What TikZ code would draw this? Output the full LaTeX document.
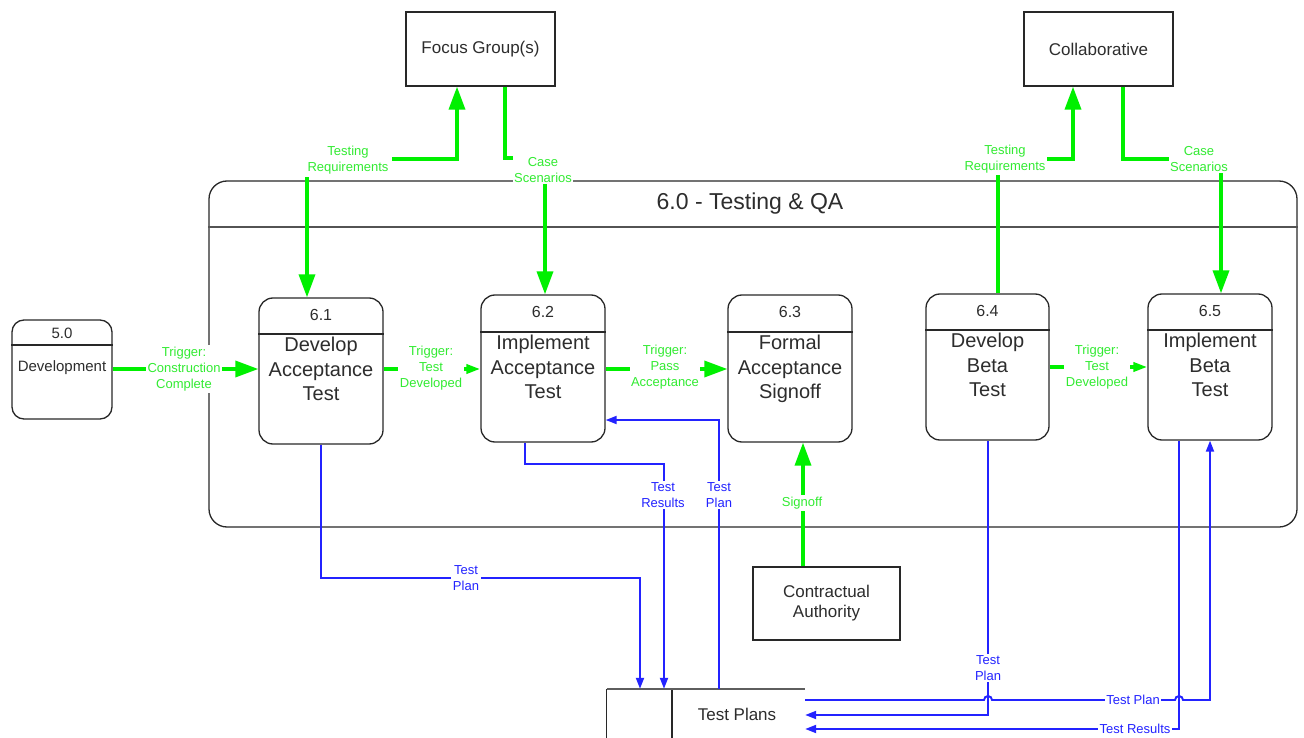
\documentclass[tikz,border=0pt]{standalone}
\usepackage{fontspec}
\setmainfont{Liberation Sans}
\usetikzlibrary{arrows.meta,calc}
\definecolor{flowgreen}{RGB}{0,240,0}
\definecolor{labgreen}{RGB}{50,235,50}
\definecolor{flowblue}{RGB}{35,35,255}
\definecolor{edge}{RGB}{40,40,40}
\definecolor{ink}{RGB}{45,45,45}

% process box: name, cx, cy, width, height, header y, id, body
\newcommand\procnode[8]{%
  \node[procbox, minimum width=#4pt, minimum height=#5pt] (#1) at (#2,#3) {};
  \coordinate (#1-hdr) at (#2,#6);
  \draw[boxline] (#1.west |- #1-hdr) -- (#1.east |- #1-hdr);
  \node[idtext] (#1-id) at (#2,{(#3-#5/2+#6)/2-1.5}) {#7};
  \node[bodytext] (#1-body) at (#2,#6+3) {#8};
}

\begin{document}
\begin{tikzpicture}[x=1pt,y=-1pt,
  boxline/.style={draw=edge, line width=1.3pt},
  procbox/.style={boxline, rounded corners=14pt, inner sep=0pt},
  extbox/.style={boxline, inner sep=0pt, text=ink, font=\fontsize{17}{20}\selectfont, align=center},
  idtext/.style={font=\fontsize{16}{18}\selectfont, text=ink},
  bodytext/.style={font=\fontsize{20}{24.5}\selectfont, text=ink, align=center, anchor=north, inner sep=0pt},
  gflow/.style={draw=flowgreen, line width=3.5pt},
  bigtip/.style={-{Triangle[length=23pt,width=16pt]}},
  bigboth/.style={{Triangle[length=23pt,width=16pt]}-{Triangle[length=23pt,width=16pt]}},
  smalltip/.style={-{Triangle[length=14pt,width=9pt]}},
  glabel/.style={font=\fontsize{13}{16}\selectfont, text=labgreen, fill=white, align=center, inner sep=1.5pt},
  bflow/.style={draw=flowblue, line width=1.9pt, -{Triangle[length=11pt,width=8pt]}},
  blabel/.style={font=\fontsize{13}{16}\selectfont, text=flowblue, fill=white, align=center, inner sep=1.5pt},
]
\fill[white] (0,0) rectangle (1304,738);
\useasboundingbox (0,0) rectangle (1304,738);

% ---- 6.0 container ----
\node[procbox, rounded corners=18pt, minimum width=1088pt, minimum height=346pt] (qa) at (753,354) {};
\coordinate (qa-hdr) at (753,227);
\draw[draw=edge!80, line width=2pt] (qa.west |- qa-hdr) -- (qa.east |- qa-hdr);
\node[font=\fontsize{23}{26}\selectfont, text=ink] (qa-title) at (750,204) {6.0 - Testing \& QA};

% ---- external entities ----
\node[extbox, minimum width=149pt, minimum height=74pt] (fg) at (480.5,49) {Focus Group(s)};
\node[extbox, minimum width=149pt, minimum height=74pt] (cb) at (1098.5,49) {Collaborative};
\node[extbox, minimum width=147pt, minimum height=73pt] (ca) at (826.5,603.5) {Contractual\\Authority};

% ---- processes ----
\node[procbox, rounded corners=12pt, minimum width=100pt, minimum height=99pt] (p50) at (62,369.5) {};
\coordinate (p50-hdr) at (62,345);
\draw[boxline] (p50.west |- p50-hdr) -- (p50.east |- p50-hdr);
\node[font=\fontsize{15}{17}\selectfont, text=ink] (p50-id) at (62,333) {5.0};
\node[font=\fontsize{15}{17}\selectfont, text=ink] (p50-body) at (62,368) {Development};

\procnode{p61}{321}{371}{124}{146}{334}{6.1}{Develop\\Acceptance\\Test}
\procnode{p62}{543}{368.5}{124}{147}{332}{6.2}{Implement\\Acceptance\\Test}
\procnode{p63}{790}{368.5}{124}{147}{332}{6.3}{Formal\\Acceptance\\Signoff}
\procnode{p64}{987.5}{367}{123}{146}{330}{6.4}{Develop\\Beta\\Test}
\procnode{p65}{1210}{367}{124}{146}{330}{6.5}{Implement\\Beta\\Test}

% ---- data store ----
\node[inner sep=0pt, minimum width=198pt, minimum height=49pt] (tp) at (706,713.5) {};
\coordinate (tp-div) at (672,713);
\draw[boxline] (tp.north west) -- (tp.south west);
\draw[boxline] (tp.north -| tp-div) -- (tp.south -| tp-div);
\draw[draw=edge!75, line width=2.5pt] (tp.north west) -- (tp.north east);
\node[font=\fontsize{17}{20}\selectfont, text=ink] (tp-text) at (737,714) {Test Plans};

% ---- green flows ----
\coordinate (gA1) at (307,159); \coordinate (gA2) at (457,159);
\draw[gflow, bigboth] (p61.north -| gA1) -- (gA1) -- (gA2) -- (fg.south -| gA2);
\coordinate (gB1) at (505,158); \coordinate (gB2) at (545,158);
\draw[gflow, bigtip] (fg.south -| gB1) -- (gB1) -- (gB2) -- (p62.north -| gB2);
\coordinate (gC1) at (998,159); \coordinate (gC2) at (1073,159);
\draw[gflow, bigtip] (p64.north -| gC1) -- (gC1) -- (gC2) -- (cb.south -| gC2);
\coordinate (gD1) at (1123,159); \coordinate (gD2) at (1221,159);
\draw[gflow, bigtip] (cb.south -| gD1) -- (gD1) -- (gD2) -- (p65.north -| gD2);

\coordinate (gE) at (0,369);
\coordinate (gF) at (0,367);
\draw[gflow, bigtip] (p50.east |- gE) -- (p61.west |- gE);
\draw[gflow, smalltip] (p61.east |- gE) -- (p62.west |- gE);
\draw[gflow, bigtip] (p62.east |- gE) -- (p63.west |- gE);
\draw[gflow, smalltip] (p64.east |- gF) -- (p65.west |- gF);
\coordinate (gG) at (803,0);
\draw[gflow, bigtip] (ca.north -| gG) -- (p63.south -| gG);

\node[glabel, inner xsep=4pt, inner ysep=3pt] (l-tr1) at (348,160) {Testing\\Requirements};
\node[glabel] (l-cs1) at (543,170) {Case\\Scenarios};
\node[glabel] (l-tr2) at (1005,159) {Testing\\Requirements};
\node[glabel] (l-cs2) at (1199,159) {Case\\Scenarios};
\node[glabel] (l-t1) at (184,369) {Trigger:\\Construction\\Complete};
\node[glabel] (l-t2) at (431,368) {Trigger:\\Test\\Developed};
\node[glabel] (l-t3) at (665,367) {Trigger:\\Pass\\Acceptance};
\node[glabel] (l-t4) at (1097,367) {Trigger:\\Test\\Developed};
\node[glabel] (l-so) at (802,503) {Signoff};

% ---- blue flows ----
\coordinate (bA1) at (321,578); \coordinate (bA2) at (640,578);
\draw[bflow] (p61.south) -- (bA1) -- (bA2) -- (tp.north -| bA2);
\coordinate (bB1) at (525,464); \coordinate (bB2) at (664,464);
\draw[bflow] (p62.south -| bB1) -- (bB1) -- (bB2) -- (tp.north -| bB2);
\coordinate (bC1) at (719,420);
\draw[bflow] (tp.north -| bC1) -- (bC1) -- (p62.east |- bC1);
\coordinate (bD1) at (988,715);
\draw[bflow] (p64.south -| bD1) -- (bD1) -- (tp.east |- bD1);
\coordinate (bE1) at (1179,729);
\draw[bflow] (p65.south -| bE1) -- (bE1) -- (tp.east |- bE1);
\coordinate (bF1) at (1210,700);
\draw[bflow] (tp.east |- bF1) -- (984,700) arc[start angle=180, end angle=0, radius=4pt]
  -- (1175,700) arc[start angle=180, end angle=0, radius=4pt] -- (bF1) -- (p65.south -| bF1);

\node[blabel] (l-b1) at (466,578) {Test\\Plan};
\node[blabel] (l-b2) at (663,495) {Test\\Results};
\node[blabel] (l-b3) at (719,495) {Test\\Plan};
\node[blabel] (l-b4) at (988,668) {Test\\Plan};
\node[blabel] (l-b5) at (1133,700) {Test Plan};
\node[blabel] (l-b6) at (1135,729) {Test Results};
\end{tikzpicture}
\end{document}
